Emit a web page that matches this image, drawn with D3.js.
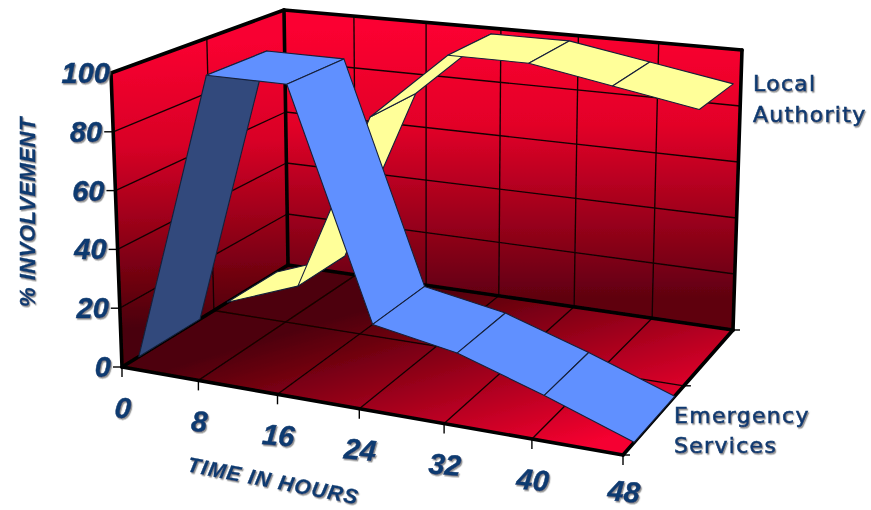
<!DOCTYPE html>
<html><head><meta charset="utf-8">
<script src="https://cdnjs.cloudflare.com/ajax/libs/d3/7.8.5/d3.min.js"></script>
<style>html,body{margin:0;padding:0;background:#fff}svg{display:block}</style>
</head><body><svg id="c" width="871" height="510"></svg>
<script>
const times = [0, 8, 16, 24, 32, 40, 48];
const valueTicks = [0, 20, 40, 60, 80, 100];
const seriesNames = ["Emergency Services", "Local Authority"];
const emergency = [0, 100, 100, 24, 19, 10, 0];
const localAuthority = [0, 10, 75, 100, 100, 95, 90];
const darkSegments = {"Emergency Services": [0], "Local Authority": []};

const svg = d3.select("#c");
const defs = svg.append("defs");
const ink = "#0f3a70";

const xS = d3.scaleLinear().domain([0, 48]).range([0, 1]);
const yS = d3.scaleLinear().domain([0, 100]).range([0, 1]);
const zS = d3.scaleBand().domain(seriesNames).range([0, 1]).paddingInner(1/3).paddingOuter(1/6);

// picture-plane corners of the chart box [u,v,t]
const C = {
  "000": [122, 367], "100": [623, 455], "001": [288, 265], "101": [733, 330],
  "010": [111, 73],  "110": [627, 132], "011": [284, 10],  "111": [742, 50]
};
const warp = (s, k) => s * (1 + k) / (1 + k * s);
function P(u, v, t) {
  const a = warp(u, -0.1), c = warp(t, 0.24), b = v;
  const out = [0, 0];
  for (const i of [0, 1]) for (const j of [0, 1]) for (const k of [0, 1]) {
    const w = (i ? a : 1 - a) * (j ? b : 1 - b) * (k ? c : 1 - c);
    const p = C["" + i + j + k];
    out[0] += w * p[0]; out[1] += w * p[1];
  }
  return out;
}
const poly = pts => "M" + pts.map(p => p[0].toFixed(1) + "," + p[1].toFixed(1)).join("L") + "Z";
const seg = (a, b) => "M" + a[0].toFixed(1) + "," + a[1].toFixed(1) + "L" + b[0].toFixed(1) + "," + b[1].toFixed(1);

function grad(id, p1, p2, stops) {
  const g = defs.append("linearGradient").attr("id", id).attr("gradientUnits", "userSpaceOnUse")
    .attr("x1", p1[0]).attr("y1", p1[1]).attr("x2", p2[0]).attr("y2", p2[1]);
  stops.forEach(s => g.append("stop").attr("offset", s[0]).attr("stop-color", s[1]));
}
grad("back", [505, 30], [505, 300], [[0, "#fb0030"], [0.35, "#e30028"], [1, "#5e0510"]]);
grad("left", [195, 45], [205, 325], [[0, "#f80030"], [0.35, "#d80026"], [1, "#4a0008"]]);
grad("floor", [424, 291], [480, 477], [[0, "#4d0008"], [1, "#f50030"]]);

const f = defs.append("filter").attr("id", "sh").attr("x", "-20%").attr("y", "-20%").attr("width", "140%").attr("height", "140%");
f.append("feDropShadow").attr("dx", 1.2).attr("dy", 1.5).attr("stdDeviation", 0.6).attr("flood-color", "#777").attr("flood-opacity", 0.8);
const soft = defs.append("filter").attr("id", "soft");
soft.append("feGaussianBlur").attr("stdDeviation", 0.35);

const g = svg.append("g").attr("filter", "url(#soft)");

// walls and floor
g.append("path").attr("d", poly([P(0,0,1), P(1,0,1), P(1,1,1), P(0,1,1)])).attr("fill", "url(#back)");
g.append("path").attr("d", poly([P(0,0,0), P(0,0,1), P(0,1,1), P(0,1,0)])).attr("fill", "url(#left)");
g.append("path").attr("d", poly([P(0,0,0), P(1,0,0), P(1,0,1), P(0,0,1)])).attr("fill", "url(#floor)");

// gridlines
const gl = g.append("g").attr("stroke", "#140003").attr("stroke-width", 1.35).attr("fill", "none");
valueTicks.slice(1, -1).forEach(v => {
  const y = yS(v);
  gl.append("path").attr("d", seg(P(0,y,1), P(1,y,1)));
  gl.append("path").attr("d", seg(P(0,y,0), P(0,y,1)));
});
times.slice(1, -1).forEach(d => {
  const x = xS(d);
  gl.append("path").attr("d", seg(P(x,0,1), P(x,1,1)));
  gl.append("path").attr("d", seg(P(x,0,0), P(x,0,1)));
});
gl.append("path").attr("d", seg(P(0,0,.5), P(0,1,.5)));
gl.append("path").attr("d", seg(P(0,0,.5), P(1,0,.5)));

// thick box edges
const eg = g.append("g").attr("stroke", "#000").attr("stroke-width", 3.6).attr("fill", "none").attr("stroke-linecap", "round");
[[[0,0,0],[0,1,0]], [[0,1,0],[0,1,1]], [[0,1,1],[1,1,1]], [[1,1,1],[1,0,1]],
 [[0,0,1],[0,1,1]], [[0,0,0],[0,0,1]], [[0,0,1],[1,0,1]], [[0,0,0],[1,0,0]], [[1,0,0],[1,0,1]]]
 .forEach(e => eg.append("path").attr("d", seg(P(...e[0]), P(...e[1]))));

// ticks (the top value carries no tick)
const tk = g.append("g").attr("stroke", "#000").attr("stroke-width", 1.4).attr("fill", "none");
valueTicks.slice(0, -1).forEach(v => { const p = P(0, yS(v), 0); tk.append("path").attr("d", seg(p, [p[0] - 9, p[1]])); });
times.forEach(d => { const p = P(xS(d), 0, 0); tk.append("path").attr("d", seg(p, [p[0], p[1] + 10])); });
[0, 0.5, 1].forEach(t => { const p = P(1, 0, t); tk.append("path").attr("d", seg(p, [p[0] + 7, p[1]])); });

// ribbons
function ribbon(name, values, fill, dark) {
  const t0 = zS(name), t1 = t0 + zS.bandwidth();
  const r = g.append("g").attr("stroke", "#16203a").attr("stroke-width", 1.1).attr("stroke-linejoin", "round");
  d3.pairs(times.map((d, i) => [xS(d), yS(values[i])])).forEach((pair, i) => {
    const [a, b] = pair;
    r.append("path")
      .attr("d", poly([P(a[0],a[1],t0), P(b[0],b[1],t0), P(b[0],b[1],t1), P(a[0],a[1],t1)]))
      .attr("fill", darkSegments[name].includes(i) ? dark : fill);
  });
}
ribbon("Local Authority", localAuthority, "#ffff99", "#ffff99");
ribbon("Emergency Services", emergency, "#6090ff", "#30487c");

// text
const tg = svg.append("g").attr("fill", ink).attr("stroke", ink).attr("filter", "url(#sh)");
const bi = "'Liberation Sans', Arial, sans-serif";
valueTicks.forEach(v => {
  const p = P(0, yS(v), 0);
  const gap = v === 100 ? 1 : 11;
  tg.append("text").text(v).attr("x", p[0] - gap).attr("y", p[1] + 10)
    .attr("stroke-width", 0.5)
    .attr("text-anchor", "end").attr("font-family", bi).attr("font-weight", "bold").attr("font-style", "italic").attr("font-size", 29);
});
times.forEach(d => {
  const p = P(xS(d), 0, 0);
  tg.append("text").text(d)
    .attr("transform", `translate(${p[0]},${Math.min(p[1] + 51, 501.5)}) rotate(5)`)
    .attr("stroke-width", 0.5)
    .attr("text-anchor", "middle").attr("font-family", bi).attr("font-weight", "bold").attr("font-style", "italic").attr("font-size", 29);
});
tg.append("text").text("TIME IN HOURS").attr("transform", "translate(272,488) rotate(11)")
  .attr("stroke-width", 0.3).attr("letter-spacing", 1.2)
  .attr("text-anchor", "middle").attr("font-family", bi).attr("font-weight", "bold").attr("font-style", "italic").attr("font-size", 21);
tg.append("text").text("% INVOLVEMENT").attr("transform", "translate(35,212) rotate(-90)")
  .attr("stroke-width", 0.3).attr("letter-spacing", 0.5)
  .attr("text-anchor", "middle").attr("font-family", bi).attr("font-weight", "bold").attr("font-style", "italic").attr("font-size", 22);

const leg = (s, x, y) => tg.append("text").text(s).attr("x", x).attr("y", y)
  .attr("font-family", "'DejaVu Sans', Verdana, sans-serif").attr("font-size", 22).attr("letter-spacing", 1.3)
  .attr("stroke-width", 0.6);
leg("Local", 753, 91); leg("Authority", 753, 122);
leg("Emergency", 674, 423); leg("Services", 674, 453);
</script></body></html>
